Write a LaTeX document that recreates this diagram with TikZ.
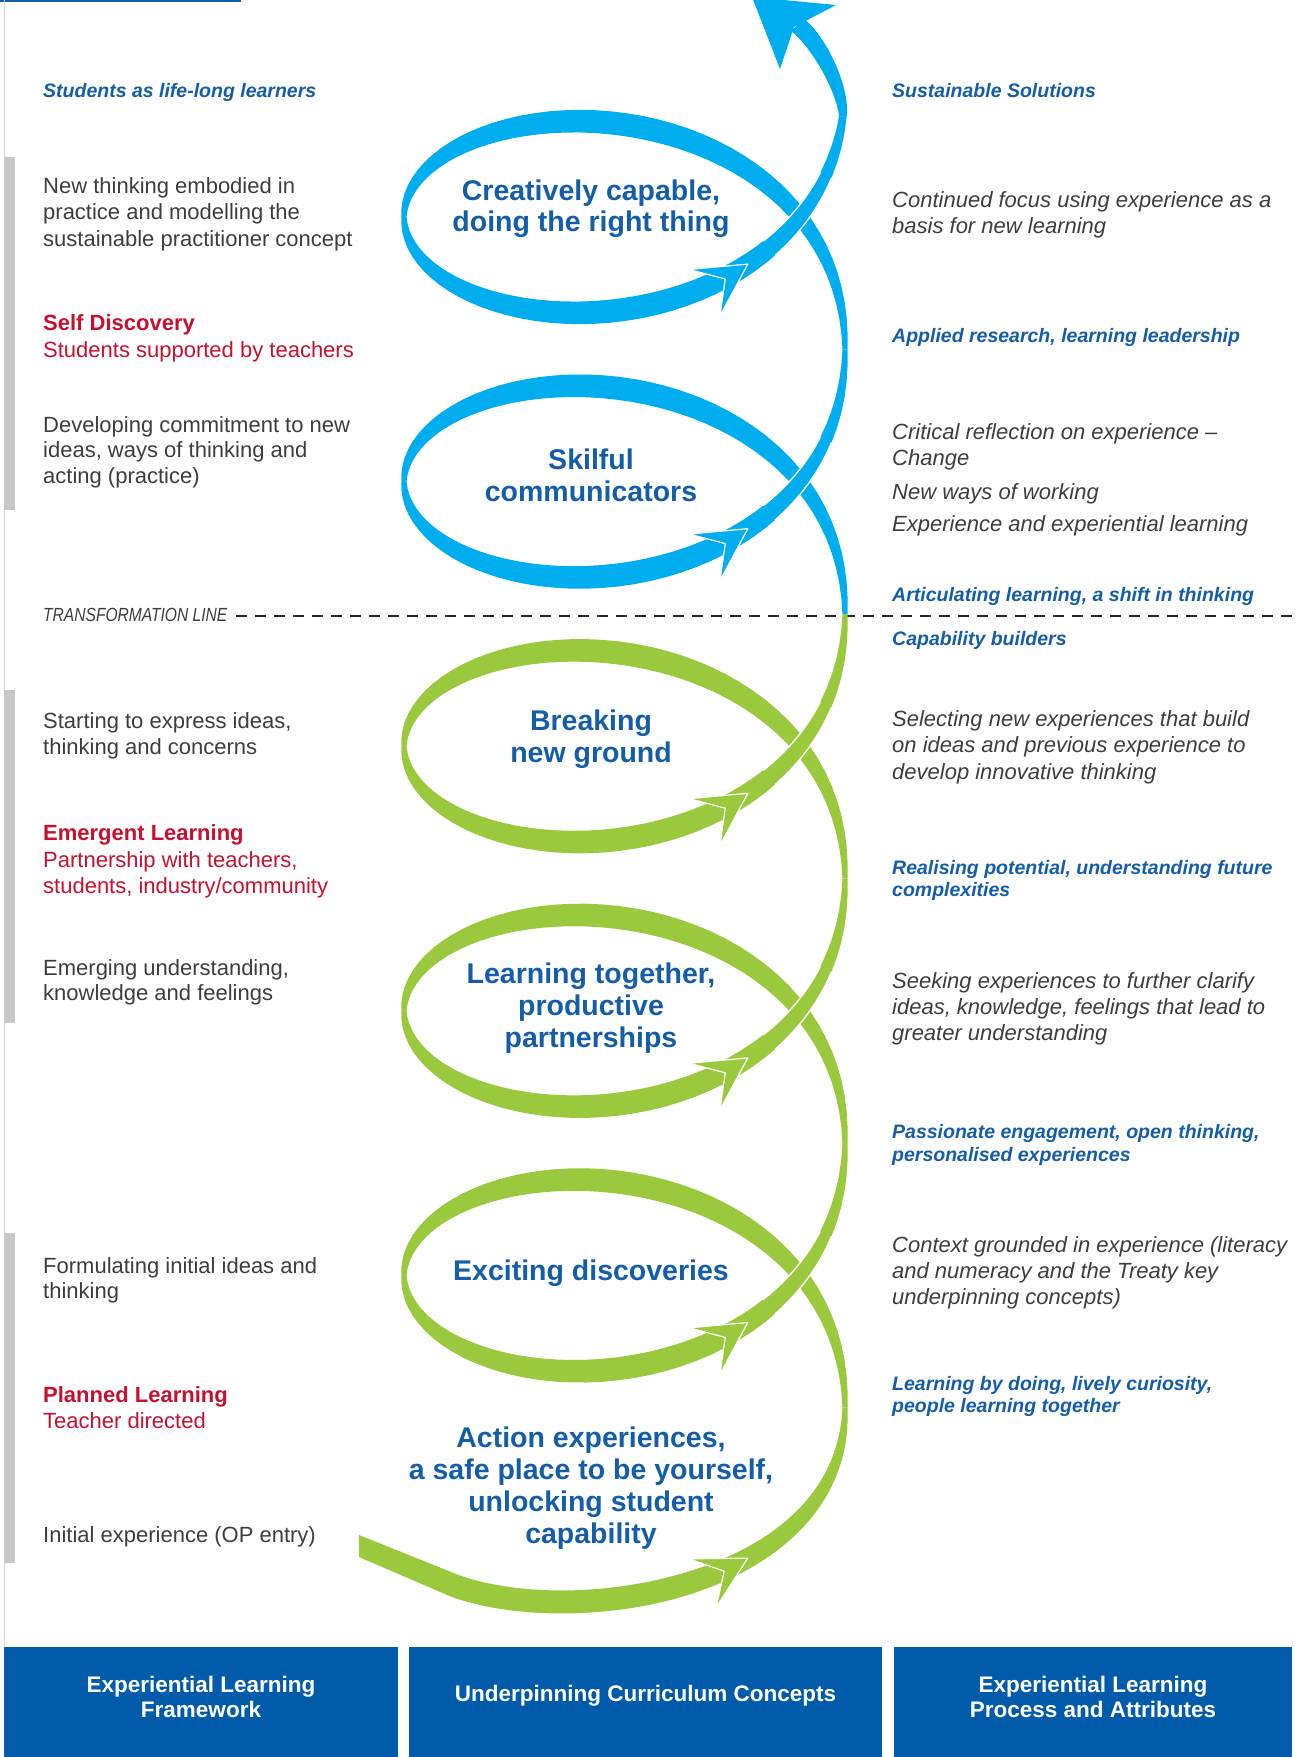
\documentclass[tikz,border=0pt]{standalone}
\usepackage{fontspec}
\setmainfont{Liberation Sans}
\newfontfamily\condfont[FakeStretch=0.82]{Liberation Sans}
\definecolor{hcyan}{HTML}{00AEEF}
\definecolor{hgreen}{HTML}{9BC93D}
\definecolor{dblue}{HTML}{145DA9}
\definecolor{boxblue}{HTML}{005BAA}
\definecolor{bodygray}{HTML}{3D3D3D}
\definecolor{redc}{HTML}{C8102E}
\definecolor{barg}{HTML}{C7C8CA}
\definecolor{lineg}{HTML}{D4D4D4}
\newcommand\hcen{0}
\newcommand\hbb{109}
\newcommand\hflat{0}
\newcommand\ribbon[5]{%
  \renewcommand\hcen{#1}\renewcommand\hbb{#2}%
  \fill[#5] plot[domain=#3:#4,samples=91] ({rbx(\x,1)},{rby(\x,1)})
    -- plot[domain=#4:#3,samples=91] ({rbx(\x,-1)},{rby(\x,-1)}) -- cycle;}
\newcommand\xedge[1]{%
  \renewcommand\hcen{#1}\renewcommand\hbb{109}%
  \draw[white,line width=1.3pt] plot[domain=131:156,samples=20] ({rbx(\x,1)},{rby(\x,1)});
  \draw[white,line width=1.3pt] plot[domain=131:156,samples=20] ({rbx(\x,-1)},{rby(\x,-1)});}
\newcommand\ahead[4]{%
  \begin{scope}[shift={(#1,#2)},rotate=#3]
    \filldraw[fill=#4,draw=white,line width=1.2pt,line join=round]
      (0,0) -- (-52,-28) -- (-27,0) -- (-52,28) -- cycle;
  \end{scope}}
\newcommand\txtlines[6]{%
  \foreach \lineitem [count=\i from 0] in {#6} {%
    \node[#5] (#1-\i) at (#2,{#3+\i*#4}) {\lineitem};
  }}
\begin{document}
\begin{tikzpicture}[x=1pt,y=-1pt,
  declare function={
    hp(\sa)=132.3*(\sa/180)*(\sa/180)*(\sa/180);
    hdp(\sa)=1.2634*(\sa/180)*(\sa/180);
    hxx(\sa)=624.5-220.5*cos(\sa);
    hyy(\sa)=\hcen-hp(\sa)+\hbb*sin(\sa);
    hdx(\sa)=2.205*sin(\sa);
    hdy(\sa)=-hdp(\sa)+(\hbb/100)*cos(\sa);
    hll(\sa)=sqrt(hdx(\sa)*hdx(\sa)+hdy(\sa)*hdy(\sa));
    hww(\sa)=5+18*max(abs(sin(\sa)),\hflat*(\sa<90));
    rbx(\sa,\sg)=hxx(\sa)-(\sg)*0.5*hww(\sa)*hdy(\sa)/hll(\sa);
    rby(\sa,\sg)=hyy(\sa)+(\sg)*0.5*hww(\sa)*hdx(\sa)/hll(\sa);
  },
  body/.style={font=\fontsize{22}{26}\selectfont,text=bodygray,inner sep=0pt,anchor=base west},
  bodyit/.style={font=\fontsize{22}{26}\selectfont\itshape,text=bodygray,inner sep=0pt,anchor=base west},
  headit/.style={font=\fontsize{19.5}{22}\selectfont\bfseries\itshape,text=dblue,inner sep=0pt,anchor=base west},
  redbold/.style={font=\fontsize{22}{26}\selectfont\bfseries,text=redc,inner sep=0pt,anchor=base west},
  redtext/.style={font=\fontsize{22}{26}\selectfont,text=redc,inner sep=0pt,anchor=base west},
  loopl/.style={font=\fontsize{28.5}{32}\selectfont\bfseries,text=dblue,inner sep=0pt,anchor=base},
  boxl/.style={font=\fontsize{22.5}{26}\selectfont\bfseries,text=white,inner sep=0pt,anchor=base},
  transl/.style={font=\condfont\fontsize{19}{22}\selectfont\itshape,text=bodygray,inner sep=0pt,anchor=base west},
  gbar/.style={fill=barg},
  bbox/.style={fill=boxblue}
]
\useasboundingbox (0,0) rectangle (1301,1757);
% frame elements
\fill[dblue] (0,0) rectangle (241,2.2);
\draw[lineg,line width=1pt] (4.5,0) -- (4.5,1647);
\fill[gbar] (4,157) rectangle (15,510);
\fill[gbar] (4,690) rectangle (15,1023);
\fill[gbar] (4,1233) rectangle (15,1563);
\fill[bbox] (4,1647) rectangle (398,1757);
\fill[bbox] (409,1647) rectangle (882,1757);
\fill[bbox] (894,1647) rectangle (1292,1757);
% transformation line
\node[transl] (trl) at (43,621) {TRANSFORMATION LINE};
\draw[black!85,line width=2.6pt,dash pattern=on 11pt off 8pt] (236,616) -- (1296,616);
% helix ribbon
\renewcommand\hflat{1}
\renewcommand\hcen{1540}\renewcommand\hbb{74}
\fill[hgreen] (359,1535) -- plot[domain=40:180,samples=71] ({rbx(\x,-1)},{rby(\x,-1)})
  -- plot[domain=180:40,samples=71] ({rbx(\x,1)},{rby(\x,1)}) -- (359,1557) -- cycle;
\renewcommand\hflat{0}
\ribbon{1275.4}{109}{-180}{180}{hgreen}
\ribbon{1010.8}{109}{-180}{180}{hgreen}
\ribbon{746.2}{109}{-180}{180}{hgreen}
\ribbon{481.6}{109}{-180}{180}{hcyan}
\ribbon{217}{109}{-180}{172}{hcyan}
\xedge{1275.4}\xedge{1010.8}\xedge{746.2}\xedge{481.6}\xedge{217}
\ahead{747.8}{1558.1}{29}{hgreen}
\ahead{747.8}{1322.5}{33.5}{hgreen}
\ahead{747.8}{1057.9}{33.5}{hgreen}
\ahead{747.8}{793.3}{33.5}{hgreen}
\ahead{747.8}{528.7}{33.5}{hcyan}
\ahead{747.8}{264.1}{33.5}{hcyan}
% top tail and big arrow
\fill[hcyan] (846.6,117.3) .. controls (850.7,87.6) and (826.2,36.1) .. (804,19)
  -- (791,31) .. controls (810.8,46.3) and (835.4,88.6) .. (839.2,116.3) -- cycle;
\fill[hcyan] (752,-3) -- (836,5) -- (794,27) -- (780,69) -- cycle;
% left column
\txtlines{lA}{43}{97}{22}{headit}{{Students as life-long learners}}
\txtlines{lB}{43}{193}{26.5}{body}{{New thinking embodied in},{practice and modelling the},{sustainable practitioner concept}}
\txtlines{lC}{43}{330}{26}{redbold}{{Self Discovery}}
\txtlines{lD}{43}{357}{26}{redtext}{{Students supported by teachers}}
\txtlines{lE}{43}{432}{25.5}{body}{{Developing commitment to new},{ideas, ways of thinking and},{acting (practice)}}
\txtlines{lF}{43}{728}{26.5}{body}{{Starting to express ideas,},{thinking and concerns}}
\txtlines{lG}{43}{840}{26}{redbold}{{Emergent Learning}}
\txtlines{lH}{43}{867}{26.5}{redtext}{{Partnership with teachers,},{students, industry/community}}
\txtlines{lI}{43}{975}{25}{body}{{Emerging understanding,},{knowledge and feelings}}
\txtlines{lJ}{43}{1273}{25}{body}{{Formulating initial ideas and},{thinking}}
\txtlines{lK}{43}{1402}{26}{redbold}{{Planned Learning}}
\txtlines{lL}{43}{1428}{26}{redtext}{{Teacher directed}}
\txtlines{lM}{43}{1542}{26}{body}{{Initial experience (OP entry)}}
% right column
\txtlines{rA}{892}{97}{22}{headit}{{Sustainable Solutions}}
\txtlines{rB}{892}{207.6}{25.7}{bodyit}{{Continued focus using experience as a},{basis for new learning}}
\txtlines{rC}{892}{342}{22}{headit}{{Applied research, learning leadership}}
\txtlines{rD}{892}{439}{26}{bodyit}{{Critical reflection on experience –},{Change}}
\txtlines{rE}{892}{499}{26}{bodyit}{{New ways of working}}
\txtlines{rF}{892}{531}{26}{bodyit}{{Experience and experiential learning}}
\txtlines{rG}{892}{601}{22}{headit}{{Articulating learning, a shift in thinking}}
\txtlines{rH}{892}{645}{22}{headit}{{Capability builders}}
\txtlines{rI}{892}{726}{26.5}{bodyit}{{Selecting new experiences that build},{on ideas and previous experience to},{develop innovative thinking}}
\txtlines{rJ}{892}{874}{22}{headit}{{Realising potential, understanding future},{complexities}}
\txtlines{rK}{892}{988}{26}{bodyit}{{Seeking experiences to further clarify},{ideas, knowledge, feelings that lead to},{greater understanding}}
\txtlines{rL}{892}{1138}{23}{headit}{{Passionate engagement, open thinking,},{personalised experiences}}
\txtlines{rM}{892}{1252}{26}{bodyit}{{Context grounded in experience (literacy},{and numeracy and the Treaty key},{underpinning concepts)}}
\txtlines{rN}{892}{1390}{22}{headit}{{Learning by doing, lively curiosity,},{people learning together}}
% loop labels
\txtlines{cA}{591}{200}{31.5}{loopl}{{Creatively capable,},{doing the right thing}}
\txtlines{cB}{591}{469}{32}{loopl}{{Skilful},{communicators}}
\txtlines{cC}{591}{730}{32}{loopl}{{Breaking},{new ground}}
\txtlines{cD}{591}{983}{32}{loopl}{{Learning together,},{productive},{partnerships}}
\txtlines{cE}{591}{1280}{32}{loopl}{{Exciting discoveries}}
\txtlines{cF}{591}{1447}{32}{loopl}{{Action experiences,},{a safe place to be yourself,},{unlocking student},{capability}}
% bottom boxes
\txtlines{bA}{201}{1692}{25}{boxl}{{Experiential Learning},{Framework}}
\txtlines{bB}{645.5}{1701}{25}{boxl}{{Underpinning Curriculum Concepts}}
\txtlines{bC}{1093}{1692}{25}{boxl}{{Experiential Learning},{Process and Attributes}}
\end{tikzpicture}
\end{document}
